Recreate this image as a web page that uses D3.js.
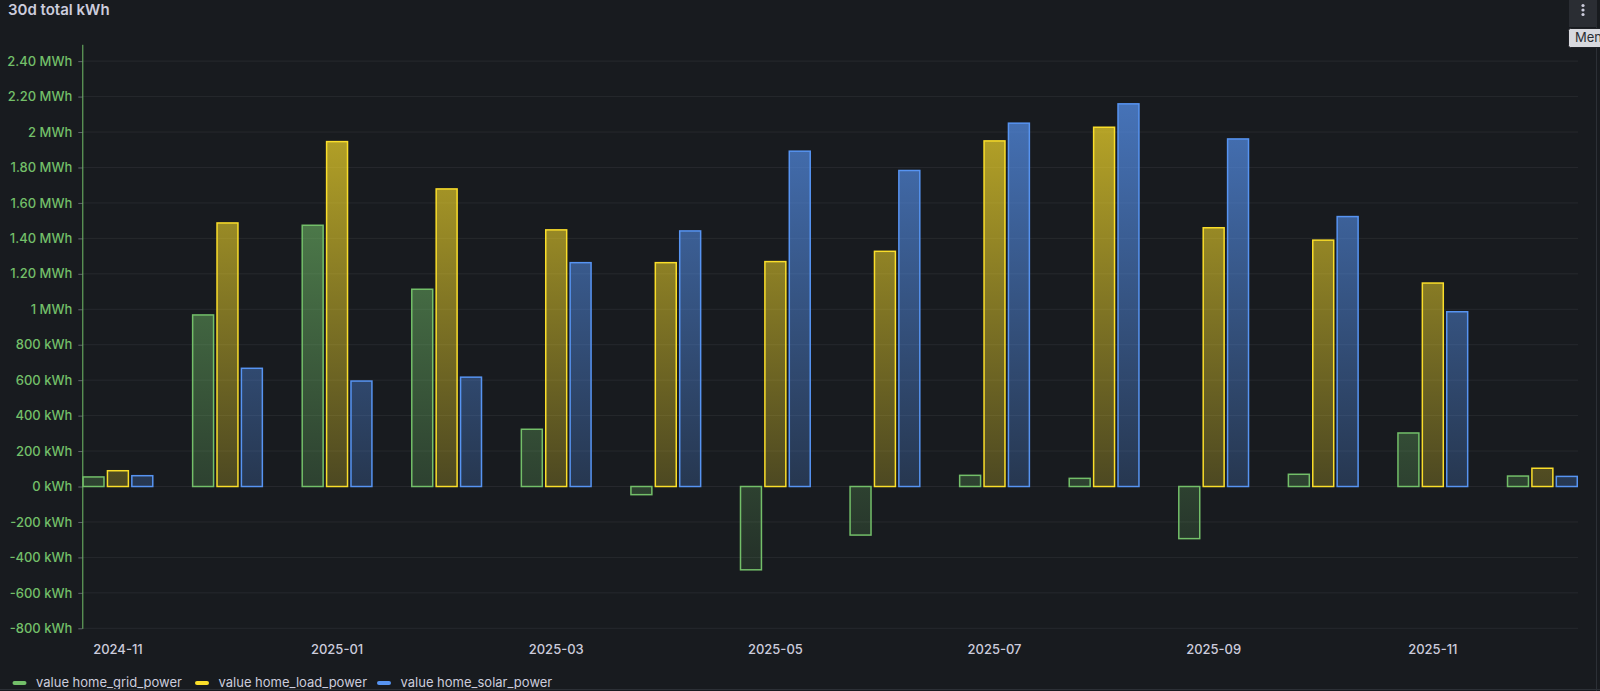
<!DOCTYPE html>
<html>
<head>
<meta charset="utf-8">
<script src="https://cdn.jsdelivr.net/npm/d3@7"></script>
<style>
  html, body { margin: 0; padding: 0; background: #181b1f; }
  svg { display: block; font-family: Inter, "Noto Sans", sans-serif; }
</style>
</head>
<body>
<svg id="chart" width="1600" height="691"></svg>
<script>
// Monthly 30d totals, kWh
const months = ['2024-11', '2024-12', '2025-01', '2025-02', '2025-03', '2025-04', '2025-05',
                '2025-06', '2025-07', '2025-08', '2025-09', '2025-10', '2025-11', '2025-12'];
const gridPower  = [54, 968, 1474, 1113, 323, -46, -470, -274, 63, 46, -294, 69, 302, 59];
const loadPower  = [89, 1487, 1946, 1679, 1448, 1263, 1269, 1327, 1950, 2027, 1460, 1390, 1148, 103];
const solarPower = [61, 667, 595, 617, 1263, 1442, 1892, 1783, 2050, 2159, 1961, 1523, 986, 57];

const seriesNames = ['value home_grid_power', 'value home_load_power', 'value home_solar_power'];
const seriesColors = ['#73bf69', '#fade2a', '#5794f2'];

const yTicks = [-800, -600, -400, -200, 0, 200, 400, 600, 800, 1000, 1200, 1400, 1600, 1800, 2000, 2200, 2400];
const yTickLabels = ['-800 kWh', '-600 kWh', '-400 kWh', '-200 kWh', '0 kWh', '200 kWh', '400 kWh', '600 kWh',
                     '800 kWh', '1 MWh', '1.20 MWh', '1.40 MWh', '1.60 MWh', '1.80 MWh', '2 MWh', '2.20 MWh', '2.40 MWh'];
const xTickLabels = ['2024-11', '2025-01', '2025-03', '2025-05', '2025-07', '2025-09', '2025-11'];

const series = [gridPower, loadPower, solarPower];

const svg = d3.select('#chart');
const plot = { left: 82.3, right: 1578, top: 44.3, bottom: 628.3 };

// Scales
const y = d3.scaleLinear().domain([-800, 2495]).range([plot.bottom, plot.top]);
const x = d3.scaleBand().domain(months).range([plot.left, plot.right]).paddingInner(0.35).paddingOuter(0);
const xInner = d3.scaleBand().domain(d3.range(series.length)).range([0, x.bandwidth()]).paddingInner(0.08);

// Gradient fills (opacity fades towards the bottom of the plot)
const defs = svg.append('defs');
seriesColors.forEach((c, i) => {
    const g = defs.append('linearGradient')
        .attr('id', 'grad' + i)
        .attr('gradientUnits', 'userSpaceOnUse')
        .attr('x1', 0).attr('x2', 0)
        .attr('y1', plot.top).attr('y2', plot.bottom);
    g.append('stop').attr('offset', '0%').attr('stop-color', c).attr('stop-opacity', 0.8);
    g.append('stop').attr('offset', '100%').attr('stop-color', c).attr('stop-opacity', 0.05);
});

// Title
svg.append('text')
    .attr('x', 8).attr('y', 15)
    .attr('fill', '#ccccdc')
    .attr('font-size', 15)
    .attr('font-weight', 600)
    .text('30d total kWh');

// Horizontal grid lines
svg.append('g')
    .selectAll('line')
    .data(yTicks)
    .join('line')
    .attr('x1', plot.left).attr('x2', plot.right)
    .attr('y1', d => y(d)).attr('y2', d => y(d))
    .attr('stroke', 'rgba(204,204,220,0.08)')
    .attr('stroke-width', 1);

// Bars
const groups = svg.append('g')
    .selectAll('g')
    .data(months)
    .join('g')
    .attr('transform', d => `translate(${x(d)},0)`);

groups.selectAll('rect')
    .data((m, gi) => series.map((s, si) => ({ si, v: s[gi] })))
    .join('rect')
    .attr('x', d => xInner(d.si) + 0.75)
    .attr('width', xInner.bandwidth() - 1.5)
    .attr('y', d => Math.min(y(d.v), y(0)))
    .attr('height', d => Math.abs(y(d.v) - y(0)))
    .attr('fill', d => `url(#grad${d.si})`)
    .attr('stroke', d => seriesColors[d.si])
    .attr('stroke-width', 1.5);

// Y axis
const yAxis = svg.append('g')
    .attr('transform', `translate(${plot.left},0)`)
    .call(d3.axisLeft(y)
        .tickValues(yTicks)
        .tickFormat((d, i) => yTickLabels[i])
        .tickSize(4)
        .tickSizeOuter(0)
        .tickPadding(6));
yAxis.select('.domain').attr('stroke', '#73bf69');
yAxis.selectAll('.tick line').attr('stroke', 'rgba(204,204,220,0.4)');
yAxis.selectAll('.tick text')
    .attr('fill', '#73bf69')
    .attr('font-size', 13)
    .attr('font-weight', 500)
    .attr('font-family', 'Inter, "Noto Sans", sans-serif');

// X axis labels (every other month)
const xAxis = svg.append('g')
    .attr('transform', `translate(0,${plot.bottom + 16})`)
    .call(d3.axisBottom(x)
        .tickValues(xTickLabels)
        .tickSize(0)
        .tickPadding(0));
xAxis.select('.domain').remove();
xAxis.selectAll('.tick text')
    .attr('fill', '#ccccdc')
    .attr('font-size', 13)
    .attr('font-weight', 500)
    .attr('font-family', 'Inter, "Noto Sans", sans-serif');

// Legend
const legendX = [12.5, 195, 377];
const legend = svg.append('g');
seriesNames.forEach((name, i) => {
    legend.append('rect')
        .attr('x', legendX[i]).attr('y', 681)
        .attr('width', 14).attr('height', 4)
        .attr('rx', 2)
        .attr('fill', seriesColors[i]);
    legend.append('text')
        .attr('x', legendX[i] + 23.5).attr('y', 683)
        .attr('dominant-baseline', 'middle')
        .attr('fill', '#ccccdc')
        .attr('font-size', 13)
        .text(name);
});

// Panel borders
svg.append('line').attr('x1', 1596.5).attr('x2', 1596.5).attr('y1', 0).attr('y2', 691)
    .attr('stroke', '#2c3036');
svg.append('line').attr('x1', 0).attr('x2', 1600).attr('y1', 689.5).attr('y2', 689.5)
    .attr('stroke', '#2c3036');

// Menu button and tooltip (cut off at the window edge, as in the screenshot)
svg.append('rect').attr('x', 1569).attr('y', 0).attr('width', 28).attr('height', 27)
    .attr('fill', '#2a2d33');
[5.5, 10, 14.5].forEach(cy => {
    svg.append('circle').attr('cx', 1583).attr('cy', cy).attr('r', 1.6).attr('fill', '#ccccdc');
});
svg.append('rect').attr('x', 1568.5).attr('y', 28.5).attr('width', 40).attr('height', 19)
    .attr('rx', 2)
    .attr('fill', '#d8d9de').attr('stroke', '#1f2126');
svg.append('text').attr('x', 1575).attr('y', 38.5)
    .attr('dominant-baseline', 'middle')
    .attr('fill', '#2a2d33')
    .attr('font-size', 13)
    .text('Men');
</script>
</body>
</html>
